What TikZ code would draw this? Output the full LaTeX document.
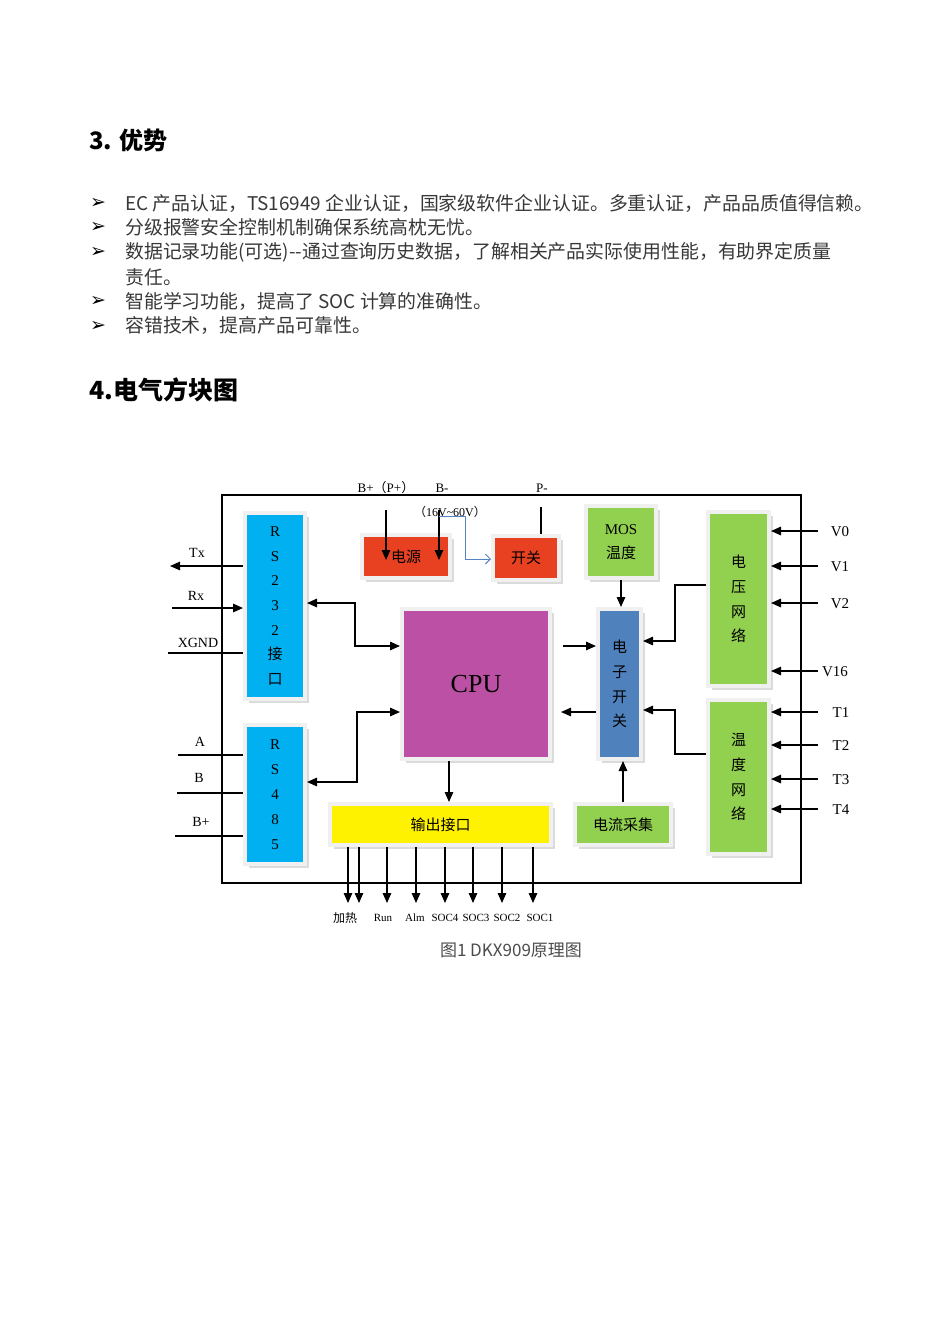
\documentclass[tikz,border=0pt]{standalone}
\usepackage{fontspec}
\setmainfont{Liberation Serif}
\newfontfamily\cjk{Noto Sans CJK SC}
\newfontfamily\sym{DejaVu Sans}
\usetikzlibrary{arrows.meta,calc,shadows}

\definecolor{rscyan}{RGB}{0,176,240}
\definecolor{pwrred}{RGB}{232,65,34}
\definecolor{lgreen}{RGB}{146,208,80}
\definecolor{cpumag}{RGB}{188,80,164}
\definecolor{swblue}{RGB}{79,129,189}
\definecolor{lineblue}{RGB}{84,130,196}

\tikzset{
  blk/.style={draw=black!6, line width=4pt, inner sep=0pt, align=center, text=black,
    drop shadow={shadow xshift=4pt, shadow yshift=-4pt, fill=black!28}},
  vtxt/.style={font=\cjk\fontsize{15}{24.7}\selectfont},
  arr/.style={line width=1.3pt, -{Triangle[length=10pt,width=8.5pt]}},
  dbl/.style={line width=1.3pt, {Triangle[length=10pt,width=8.5pt]}-{Triangle[length=10pt,width=8.5pt]}},
  wire/.style={line width=1.3pt},
  lbl/.style={inner sep=0pt, font=\fontsize{14}{16}\selectfont},
  body/.style={anchor=west, inner sep=0pt, text=black!78, font=\cjk\fontsize{18.9}{20}\selectfont},
  head/.style={anchor=west, inner sep=0pt, font=\cjk\bfseries\fontsize{24}{28}\selectfont},
}

\begin{document}
\begin{tikzpicture}[x=1pt, y=-1pt]
  \fill[white] (0,0) rectangle (950,1344);
  \useasboundingbox (0,0) rectangle (950,1344);

  % section 3
  \node[head] (h3) at (89,140) {3. 优势};
  \foreach \y [count=\i] in {203,227,252,301,326}
    \node[inner sep=0pt, font=\sym\bfseries\fontsize{19}{20}\selectfont] (bul\i) at (98,\y) {➢};
  \node[body] (t1) at (125,203) {EC 产品认证，TS16949 企业认证，国家级软件企业认证。多重认证，产品品质值得信赖。};
  \node[body] (t2) at (125,227) {分级报警安全控制机制确保系统高枕无忧。};
  \node[body] (t3) at (125,252) {数据记录功能(可选){-}{-}通过查询历史数据，了解相关产品实际使用性能，有助界定质量};
  \node[body] (t3b) at (125,277) {责任。};
  \node[body] (t4) at (125,301) {智能学习功能，提高了 SOC 计算的准确性。};
  \node[body] (t5) at (125,326) {容错技术，提高产品可靠性。};

  % section 4
  \node[head, font=\cjk\bfseries\fontsize{25}{28}\selectfont] (h4) at (89,390) {4.电气方块图};

  \draw[line width=2.5pt] (222,495) rectangle (801,883);

  % blocks
  \node[blk, fill=rscyan, minimum width=60, minimum height=186, vtxt] (rsa) at (275,606)
    {{\rmfamily R}\\{\rmfamily S}\\{\rmfamily 2}\\{\rmfamily 3}\\{\rmfamily 2}\\接\\口};
  \node[blk, fill=rscyan, minimum width=60, minimum height=139, vtxt, font=\fontsize{15}{25}\selectfont] (rsb) at (275,794.5)
    {R\\S\\4\\8\\5};
  \node[blk, fill=pwrred, minimum width=88, minimum height=43, font=\cjk\fontsize{15}{18}\selectfont] (pwr) at (406,556.5) {电源};
  \node[blk, fill=pwrred, minimum width=66, minimum height=44, font=\cjk\fontsize{15}{18}\selectfont] (sw) at (526,558) {开关};
  \node[blk, fill=lgreen, minimum width=70, minimum height=72, font=\cjk\fontsize{15}{24}\selectfont] (mos) at (621,542)
    {{\rmfamily MOS}\\温度};
  \node[blk, fill=lgreen, minimum width=61, minimum height=174, vtxt] (vnet) at (738.5,599) {电\\压\\网\\络};
  \node[blk, fill=lgreen, minimum width=61, minimum height=154, vtxt] (tnet) at (738.5,777) {温\\度\\网\\络};
  \node[blk, fill=cpumag, minimum width=148, minimum height=150, font=\fontsize{26}{28}\selectfont] (cpu) at (476,684)
    {\raisebox{-9pt}{CPU}};
  \node[blk, fill=swblue, minimum width=43, minimum height=150, vtxt] (esw) at (619.5,684) {电\\子\\开\\关};
  \node[blk, fill=yellow, minimum width=221, minimum height=41, font=\cjk\fontsize{15}{18}\selectfont] (out) at (440.5,824.5) {输出接口};
  \node[blk, fill=lgreen, minimum width=96, minimum height=41, font=\cjk\fontsize{15}{18}\selectfont] (cur) at (623,824.5) {电流采集};

  % top terminals
  \node[lbl, font=\fontsize{13}{14}\selectfont] (lbp) at (386,488) {B+{\cjk（}P+{\cjk）}};
  \node[lbl, font=\fontsize{13}{14}\selectfont] (lbm) at (442,488) {B-};
  \node[lbl, font=\fontsize{13}{14}\selectfont] (lpm) at (542,488) {P-};
  \node[lbl, font=\fontsize{12}{14}\selectfont] (rng) at (450,512) {{\cjk（}16V\textasciitilde60V{\cjk）}};
  \coordinate (bp) at (386,510);
  \coordinate (bm) at (439,510);
  \coordinate (pm) at (541,507);
  \draw[arr] (bp) -- (bp |- 0,560);
  \draw[arr] (bm) -- (bm |- 0,560);
  \draw[lineblue, line width=1pt, -{Straight Barb[length=5pt,width=10pt]}]
    (bm |- 0,516) -| (465,559) -- (sw.west |- 0,559);
  \draw[wire] (pm) -- (pm |- sw.north);

  % left terminals
  \coordinate (txe) at (170,566);
  \coordinate (rxs) at (172,608);
  \coordinate (gnd) at (168,653);
  \coordinate (pa) at (178,755);
  \coordinate (pb) at (177,793);
  \coordinate (pbp) at (175,836);
  \draw[arr] (txe -| rsa.west) -- (txe);
  \draw[arr] (rxs) -- (rxs -| rsa.west);
  \draw[wire] (gnd) -- (gnd -| rsa.west);
  \draw[wire] (pa) -- (pa -| rsb.west);
  \draw[wire] (pb) -- (pb -| rsb.west);
  \draw[wire] (pbp) -- (pbp -| rsb.west);
  \node[lbl] (ltx) at (197,553) {Tx};
  \node[lbl] (lrx) at (196,596) {Rx};
  \node[lbl] (lgnd) at (198,643) {XGND};
  \node[lbl] (la) at (200,742) {A};
  \node[lbl] (lb) at (199,778) {B};
  \node[lbl] (lbb) at (201,822) {B+};

  % internal links
  \draw[dbl] (rsa.east |- 0,603) -| (355,646) -- (cpu.west |- 0,646);
  \draw[dbl] (rsb.east |- 0,782) -| (357,712) -- (cpu.west |- 0,712);
  \draw[arr] ($(cpu.east |- 0,646)+(11,0)$) -- (esw.west |- 0,646);
  \draw[arr] (esw.west |- 0,712) -- ($(cpu.east |- 0,712)+(9,0)$);
  \draw[arr] (mos.south) -- (mos.south |- esw.north);
  \draw[arr] (cur.north) -- (cur.north |- esw.south);
  \draw[arr] (vnet.west |- 0,585) -| (675,641) -- (esw.east |- 0,641);
  \draw[arr] (tnet.west |- 0,754) -| (675,710) -- (esw.east |- 0,710);
  \draw[arr] (449,0 |- cpu.south) -- (449,0 |- out.north);

  % right terminals
  \foreach \y/\t/\lx in {531/V0/840, 566/V1/840, 603/V2/840, 671/V16/835} {
    \coordinate (in\t) at (818,\y);
    \draw[arr] (in\t) -- (in\t -| vnet.east);
    \node[lbl, font=\fontsize{15}{16}\selectfont] (l\t) at (\lx,\y+1) {\t};
  }
  \foreach \y/\t in {712/T1, 745/T2, 779/T3, 809/T4} {
    \coordinate (in\t) at (818,\y);
    \draw[arr] (in\t) -- (in\t -| tnet.east);
    \node[lbl, font=\fontsize{15}{16}\selectfont] (l\t) at (841,\y+1) {\t};
  }

  % outputs
  \foreach \x in {348,359,387,416,445,473,502,533} {
    \coordinate (o\x) at (\x,903);
    \draw[arr] (o\x |- out.south) -- (o\x);
  }
  \node[lbl, font=\cjk\fontsize{12}{14}\selectfont] (lheat) at (345,918) {加热};
  \foreach \x/\t in {383/Run, 415/Alm, 445/SOC4, 476/SOC3, 507/SOC2, 540/SOC1}
    \node[lbl, font=\fontsize{11}{13}\selectfont] (l\t) at (\x,918) {\t};

  \node[inner sep=0pt, text=black!70, font=\cjk\fontsize{17}{18}\selectfont] (cap) at (511,950) {图1 DKX909原理图};
\end{tikzpicture}
\end{document}
